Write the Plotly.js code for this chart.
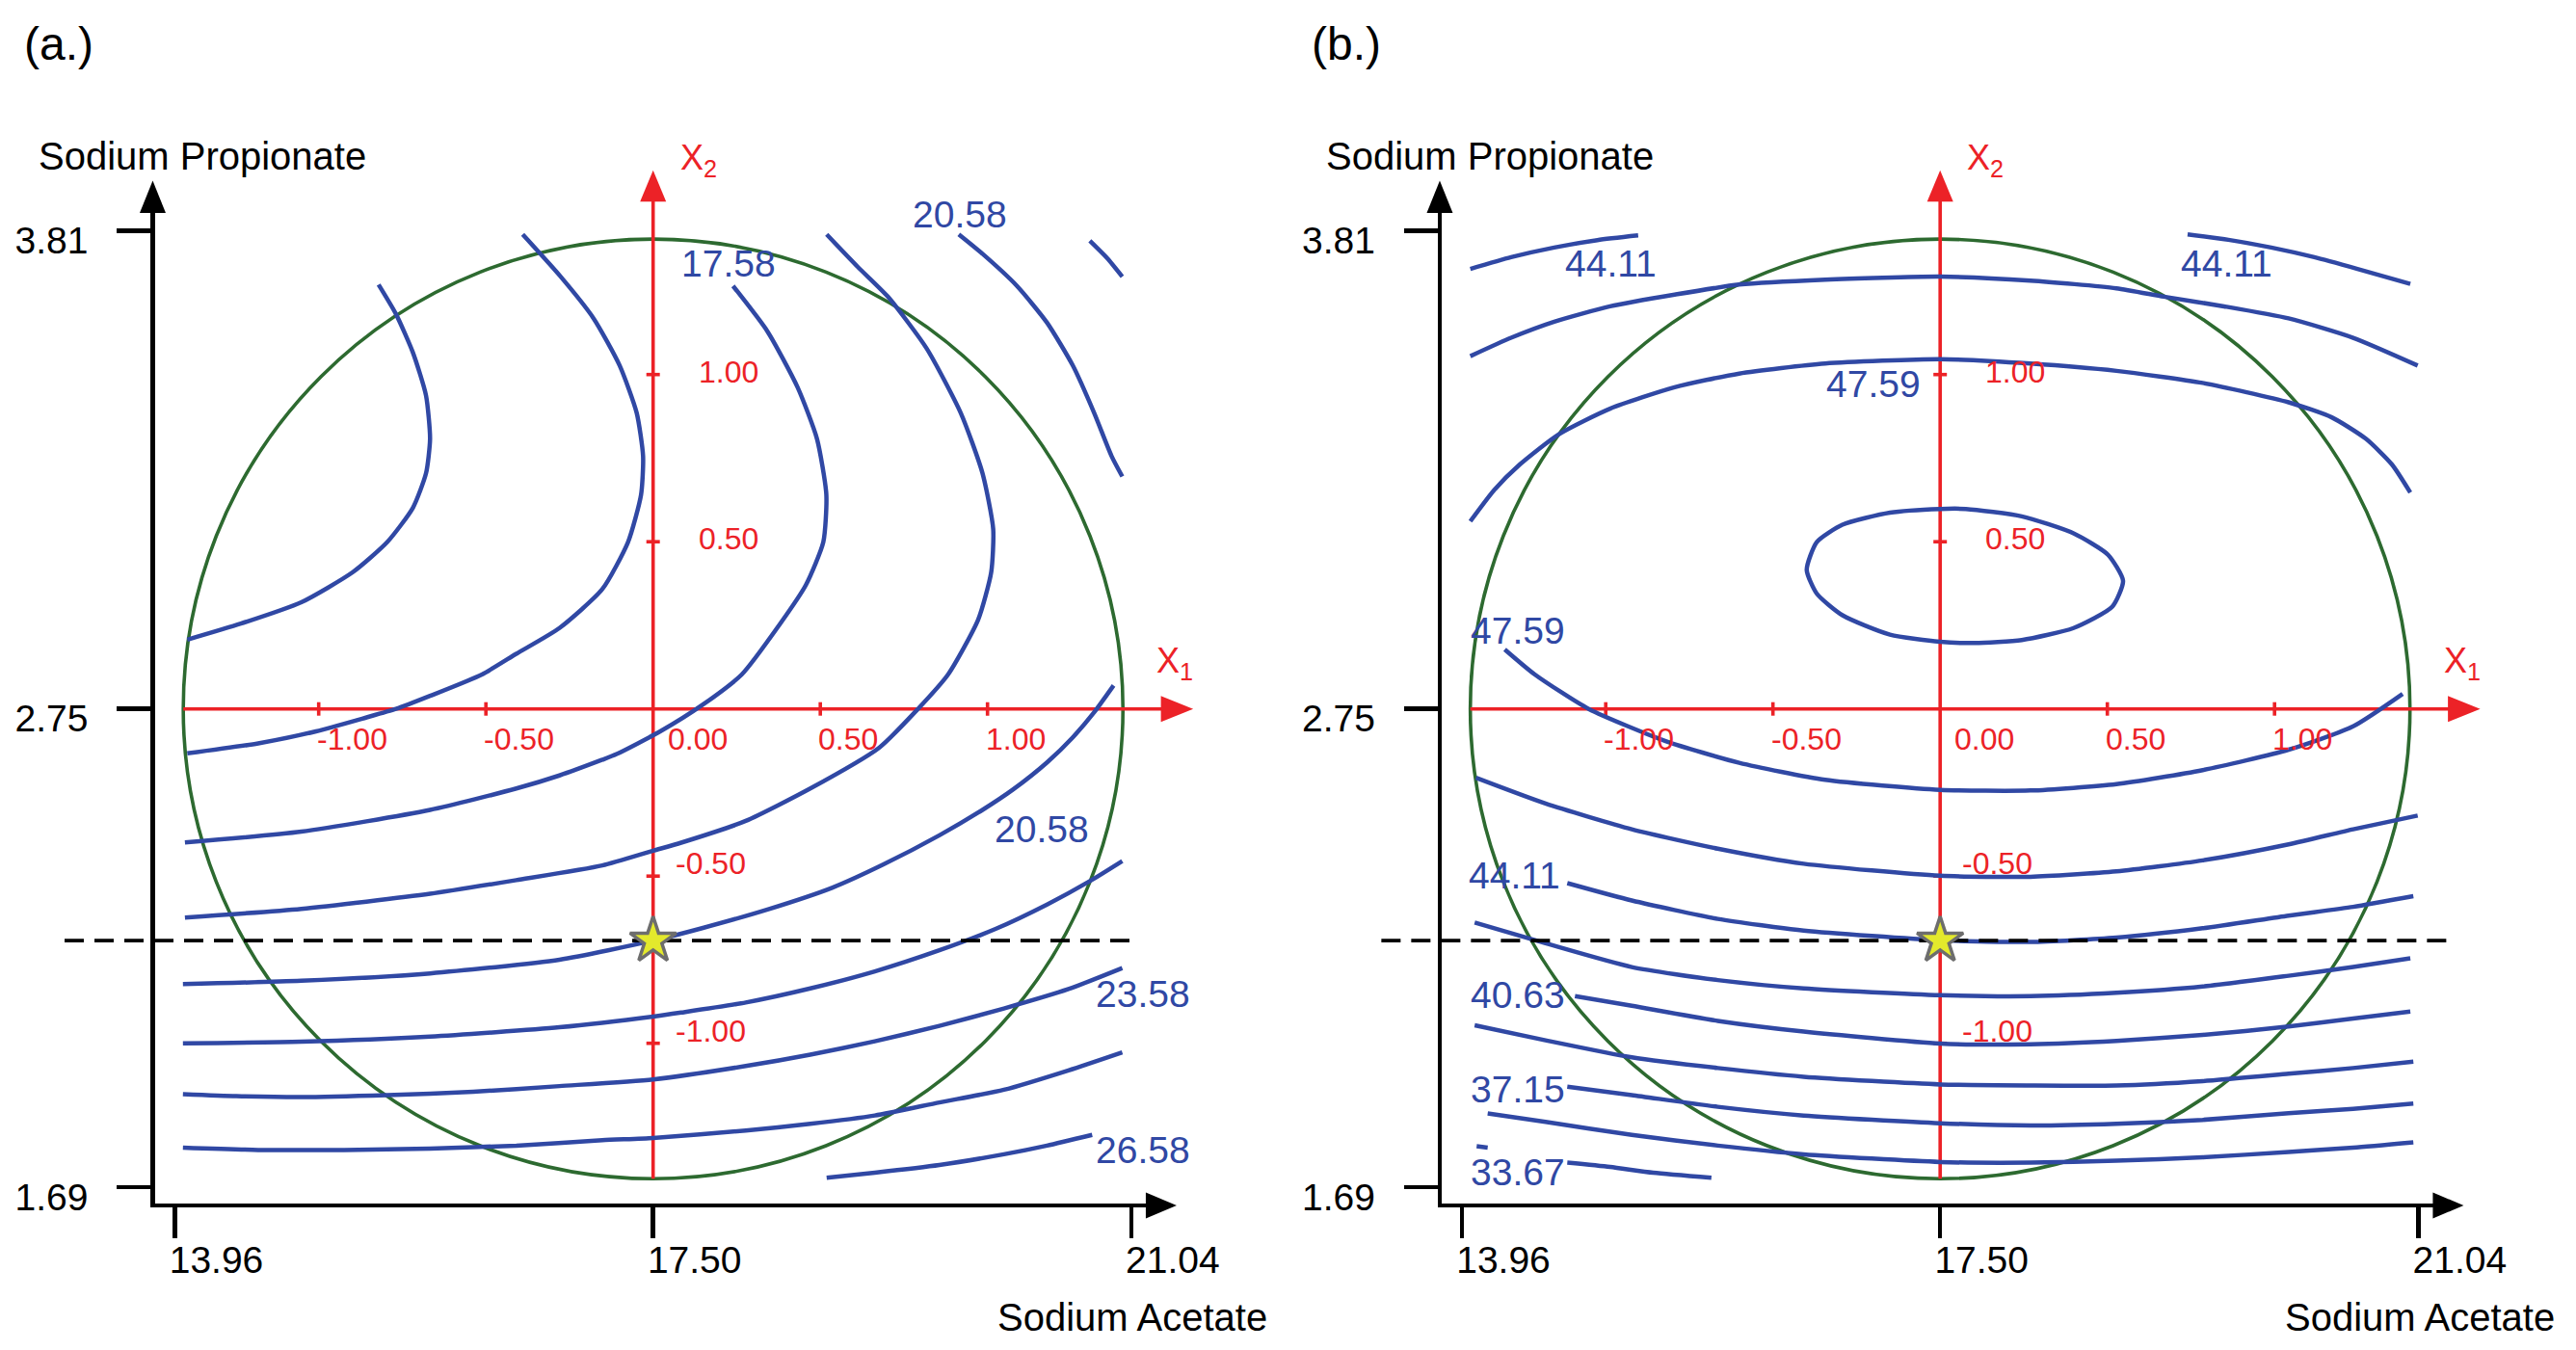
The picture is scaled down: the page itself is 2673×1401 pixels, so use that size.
<!DOCTYPE html>
<html>
<head>
<meta charset="utf-8">
<script src="https://cdn.plot.ly/plotly-3.0.1.min.js"></script>
<style>
html,body{margin:0;padding:0;background:#ffffff;}
#chart{width:2673px;height:1401px;}
</style>
</head>
<body>
<div id="chart"></div>
<script>
// ================= DATA =================
// Real-unit axes
const panelLabels = ['(a.)', '(b.)'];
const xAxisName = 'Sodium Acetate';
const yAxisName = 'Sodium Propionate';
const acetateTicks = [13.96, 17.50, 21.04];
const propionateTicks = [1.69, 2.75, 3.81];
// Coded axes
const codedTicksX1 = [-1.00, -0.50, 0.00, 0.50, 1.00];
const codedTicksX2 = [-1.00, -0.50, 0.50, 1.00];
const designRadius = 1.405;
const optimumX1 = 0.0;
const optimumX2 = -0.693;
const dashA_x = [-1.76, 1.43];
const dashB_x = [-1.671, 1.518];

// ---- Panel (a) contour lines (coded X1, X2) ----
const a1_x = [-0.821,-0.769,-0.718,-0.679,-0.667,-0.679,-0.718,-0.795,-0.898,-1.052,-1.233,-1.393];
const a1_y = [1.269,1.181,1.065,0.937,0.808,0.705,0.602,0.499,0.409,0.319,0.255,0.207];
const a2_x = [-0.390,-0.280,-0.178,-0.100,-0.049,-0.030,-0.036,-0.075,-0.152,-0.280,-0.409,-0.512,-0.667,-0.769,-0.859,-1.008,-1.181,-1.393];
const a2_y = [1.419,1.297,1.168,1.027,0.885,0.756,0.641,0.499,0.358,0.242,0.165,0.103,0.039,0.000,-0.026,-0.067,-0.103,-0.133];
const a3_x = [0.239,0.342,0.432,0.490,0.518,0.509,0.457,0.380,0.265,0.149,0.020,-0.109,-0.152,-0.280,-0.409,-0.667,-1.052,-1.400];
const a3_y = [1.265,1.129,0.962,0.808,0.641,0.499,0.371,0.255,0.103,0.013,-0.068,-0.135,-0.152,-0.199,-0.238,-0.302,-0.367,-0.399];
const a4_x = [0.519,0.612,0.702,0.818,0.920,0.985,1.017,1.011,0.972,0.882,0.792,0.676,0.470,0.277,0.084,0.000,-0.152,-0.409,-0.667,-1.052,-1.400];
const a4_y = [1.419,1.322,1.233,1.078,0.885,0.705,0.538,0.409,0.267,0.103,0.000,-0.116,-0.238,-0.335,-0.400,-0.424,-0.468,-0.512,-0.553,-0.598,-0.624];
const a5_x = [0.914,0.985,1.088,1.178,1.255,1.319,1.371,1.403];
const a5_y = [1.419,1.361,1.265,1.155,1.027,0.885,0.756,0.695];
const a6_x = [1.306,1.358,1.403];
const a6_y = [1.400,1.348,1.293];
const a7_x = [-1.406,-1.052,-0.667,-0.280,0.000,0.149,0.342,0.535,0.689,0.856,0.985,1.075,1.178,1.255,1.319,1.377];
const a7_y = [-0.823,-0.813,-0.791,-0.750,-0.693,-0.655,-0.600,-0.535,-0.465,-0.378,-0.302,-0.242,-0.160,-0.085,-0.010,0.070];
const a8_x = [-1.406,-1.052,-0.667,-0.280,0.000,0.084,0.277,0.470,0.663,0.856,1.024,1.178,1.306,1.403];
const a8_y = [-1.000,-0.995,-0.980,-0.952,-0.920,-0.908,-0.878,-0.836,-0.785,-0.722,-0.658,-0.585,-0.515,-0.455];
const a9_x = [-1.406,-1.246,-1.052,-0.795,-0.538,-0.280,0.000,0.277,0.470,0.663,0.856,1.049,1.242,1.403];
const a9_y = [-1.152,-1.158,-1.161,-1.155,-1.145,-1.128,-1.108,-1.068,-1.034,-0.994,-0.948,-0.896,-0.838,-0.775];
const a10_x = [-1.406,-1.181,-0.924,-0.667,-0.409,-0.152,0.000,0.277,0.470,0.663,0.856,1.049,1.242,1.403];
const a10_y = [-1.312,-1.319,-1.319,-1.315,-1.306,-1.290,-1.283,-1.261,-1.241,-1.216,-1.177,-1.139,-1.081,-1.027];
const a11_x = [0.519,0.663,0.856,1.049,1.178,1.313];
const a11_y = [-1.402,-1.387,-1.364,-1.332,-1.306,-1.274];
const labelsA_text = ['17.58','20.58','20.58','23.58','26.58'];
const labelsA_x = [0.226, 0.916, 1.162, 1.465, 1.465];
const labelsA_y = [1.333, 1.480, -0.360, -0.851, -1.318];

// ---- Panel (b) contour lines (coded X1, X2) ----
const b1_x = [-1.405,-1.283,-1.154,-1.025,-0.903];
const b1_y = [1.316,1.351,1.380,1.402,1.416];
const b2_x = [0.740,0.862,0.990,1.119,1.248,1.406];
const b2_y = [1.419,1.403,1.380,1.351,1.316,1.271];
const b3_x = [-1.405,-1.283,-1.154,-0.987,-0.794,-0.601,-0.344,0.000,0.270,0.527,0.669,0.849,1.042,1.235,1.428];
const b3_y = [1.055,1.110,1.158,1.204,1.239,1.269,1.284,1.293,1.281,1.258,1.233,1.204,1.168,1.110,1.027];
const b4_x = [-1.405,-1.334,-1.257,-1.141,-0.987,-0.794,-0.601,-0.344,0.000,0.270,0.527,0.785,1.042,1.171,1.273,1.351,1.406];
const b4_y = [0.561,0.654,0.731,0.821,0.898,0.962,1.003,1.033,1.046,1.033,1.011,0.975,0.917,0.872,0.808,0.731,0.647];
const b5_x = [-0.399,-0.369,-0.292,-0.150,0.000,0.077,0.244,0.399,0.502,0.547,0.515,0.399,0.244,0.103,0.000,-0.150,-0.292,-0.369,-0.399];
const b5_y = [0.416,0.499,0.551,0.587,0.598,0.598,0.576,0.525,0.461,0.383,0.306,0.242,0.206,0.197,0.201,0.222,0.280,0.345,0.416];
const b6_x = [-1.302,-1.212,-1.051,-0.819,-0.601,-0.344,0.000,0.270,0.527,0.785,1.042,1.235,1.383];
const b6_y = [0.178,0.103,0.000,-0.097,-0.161,-0.212,-0.242,-0.244,-0.225,-0.183,-0.122,-0.052,0.045];
const b7_x = [-1.388,-1.180,-0.922,-0.665,-0.408,0.000,0.270,0.527,0.785,1.042,1.235,1.428];
const b7_y = [-0.206,-0.283,-0.360,-0.418,-0.463,-0.499,-0.502,-0.486,-0.453,-0.405,-0.360,-0.319];
const b8_x = [-1.115,-0.922,-0.665,-0.408,0.000,0.270,0.527,0.785,1.042,1.235,1.415];
const b8_y = [-0.521,-0.573,-0.628,-0.663,-0.692,-0.697,-0.684,-0.656,-0.618,-0.592,-0.560];
const b9_x = [-1.392,-1.180,-0.922,-0.665,-0.408,0.000,0.270,0.527,0.785,1.042,1.235,1.406];
const b9_y = [-0.639,-0.701,-0.772,-0.811,-0.836,-0.856,-0.859,-0.849,-0.830,-0.798,-0.772,-0.746];
const b10_x = [-1.092,-0.922,-0.665,-0.408,0.000,0.270,0.527,0.785,1.042,1.235,1.406];
const b10_y = [-0.859,-0.888,-0.933,-0.965,-1.001,-1.003,-0.993,-0.975,-0.950,-0.926,-0.905];
const b11_x = [-1.392,-1.180,-0.922,-0.665,-0.408,0.000,0.270,0.527,0.785,1.042,1.235,1.415];
const b11_y = [-0.946,-0.991,-1.042,-1.074,-1.100,-1.123,-1.126,-1.126,-1.113,-1.091,-1.074,-1.055];
const b12_x = [-1.115,-0.922,-0.665,-0.408,0.000,0.270,0.527,0.785,1.042,1.235,1.415];
const b12_y = [-1.130,-1.155,-1.190,-1.216,-1.239,-1.246,-1.241,-1.229,-1.209,-1.196,-1.180];
const b13_x = [-1.353,-1.180,-0.922,-0.665,-0.408,0.000,0.270,0.527,0.785,1.042,1.235,1.415];
const b13_y = [-1.210,-1.235,-1.274,-1.306,-1.332,-1.355,-1.357,-1.351,-1.341,-1.325,-1.312,-1.296];
const b14_x = [-1.115,-0.987,-0.858,-0.684];
const b14_y = [-1.357,-1.370,-1.387,-1.402];
const b15_x = [-1.386,-1.353];
const b15_y = [-1.308,-1.312];
const labelsB_text = ['44.11','44.11','47.59','47.59','44.11','40.63','37.15','33.67'];
const labelsB_x = [-0.986, 0.857, -0.198, -1.264, -1.272, -1.263, -1.263, -1.263];
const labelsB_y = [1.333, 1.333, 0.971, 0.235, -0.499, -0.856, -1.139, -1.387];

// ================= GEOMETRY / STYLE =================
const W = 2673, H = 1401;
const PX = 347;                 // pixels per coded unit
const CY = 735.7;               // pixel row of X2 = 0
const CX = [677.7, 2013.2];     // pixel column of X1 = 0, per panel
const X_RANGE = [-1.490, 1.505];     // black real-unit frame
const Y_RANGE = [-1.4787, 1.5006];
const BIG_X = [-1.80, 1.66];         // wider invisible drawing area (same scale)
const BIG_Y = [-1.56, 1.66];
const CODED_EDGE = 1.43;        // coded position of the outer real-unit ticks
const FONT = 'Liberation Sans, Arial, Helvetica, sans-serif';
const BLUE = '#3048a4', RED = '#ec2227', GREEN = '#2d6a30';

const aceMid = acetateTicks[1], aceStep = (acetateTicks[2] - acetateTicks[0]) / 2 / CODED_EDGE;
const proMid = propionateTicks[1], proStep = (propionateTicks[2] - propionateTicks[0]) / 2 / CODED_EDGE;

function xDomOf(p, r) { return [(CX[p] + PX * r[0]) / W, (CX[p] + PX * r[1]) / W]; }
function yDomOf(r) { return [1 - (CY - PX * r[0]) / H, 1 - (CY - PX * r[1]) / H]; }
function pxX(p, cx) { return CX[p] + PX * cx; }
function pxY(cy) { return CY - PX * cy; }

const contoursA = [[a1_x,a1_y],[a2_x,a2_y],[a3_x,a3_y],[a4_x,a4_y],[a5_x,a5_y],[a6_x,a6_y],
                   [a7_x,a7_y],[a8_x,a8_y],[a9_x,a9_y],[a10_x,a10_y],[a11_x,a11_y]];
const contoursB = [[b1_x,b1_y],[b2_x,b2_y],[b3_x,b3_y],[b4_x,b4_y],[b5_x,b5_y],[b6_x,b6_y],
                   [b7_x,b7_y],[b8_x,b8_y],[b9_x,b9_y],[b10_x,b10_y],[b11_x,b11_y],[b12_x,b12_y],
                   [b13_x,b13_y],[b14_x,b14_y],[b15_x,b15_y]];
const dashX = [dashA_x, dashB_x];
const contours = [contoursA, contoursB];
const labels = [[labelsA_text, labelsA_x, labelsA_y], [labelsB_text, labelsB_x, labelsB_y]];

const traces = [];
const annotations = [];
const shapes = [];
const layout = {
  width: W, height: H,
  margin: {l: 0, r: 0, t: 0, b: 0},
  paper_bgcolor: '#ffffff', plot_bgcolor: 'rgba(0,0,0,0)',
  showlegend: false, hovermode: false,
  font: {family: FONT, color: '#000'}
};

for (let p = 0; p < 2; p++) {
  // visible black frame axes (real units)
  const fx = p ? 'x2' : 'x', fy = p ? 'y2' : 'y';
  // invisible drawing axes (coded units, same pixel scale)
  const xa = p ? 'x4' : 'x3', ya = p ? 'y4' : 'y3';
  layout[p ? 'xaxis2' : 'xaxis'] = {
    domain: xDomOf(p, X_RANGE), range: X_RANGE, anchor: fy,
    showline: true, linecolor: '#000', linewidth: 4.5,
    ticks: 'outside', ticklen: 32, tickwidth: 4.5, tickcolor: '#000',
    tickvals: acetateTicks.map(v => (v - aceMid) / aceStep),
    ticktext: acetateTicks.map(v => v.toFixed(2)),
    tickfont: {family: FONT, size: 39, color: '#000'},
    ticklabelshift: 43, ticklabelstandoff: -11,
    showgrid: false, zeroline: false, fixedrange: true
  };
  layout[p ? 'yaxis2' : 'yaxis'] = {
    domain: yDomOf(Y_RANGE), range: Y_RANGE, anchor: fx,
    showline: true, linecolor: '#000', linewidth: 4.5,
    ticks: 'outside', ticklen: 35, tickwidth: 4.5, tickcolor: '#000',
    tickvals: propionateTicks.map(v => (v - proMid) / proStep),
    ticktext: propionateTicks.map(v => v.toFixed(2)),
    tickfont: {family: FONT, size: 39, color: '#000'},
    ticklabelshift: 10, ticklabelstandoff: 22,
    showgrid: false, zeroline: false, fixedrange: true
  };
  layout[p ? 'xaxis4' : 'xaxis3'] = {domain: xDomOf(p, BIG_X), range: BIG_X, anchor: ya,
    visible: false, fixedrange: true};
  layout[p ? 'yaxis4' : 'yaxis3'] = {domain: yDomOf(BIG_Y), range: BIG_Y, anchor: xa,
    visible: false, fixedrange: true};

  // empty trace so the real-unit frame subplot is drawn
  traces.push({x: [], y: [], xaxis: fx, yaxis: fy, mode: 'lines', hoverinfo: 'skip'});

  // red coded axes
  traces.push({x: [-designRadius, 1.55], y: [0, 0], xaxis: xa, yaxis: ya, mode: 'lines',
    line: {color: RED, width: 3.6}});
  traces.push({x: [0, 0], y: [-designRadius, 1.55], xaxis: xa, yaxis: ya, mode: 'lines',
    line: {color: RED, width: 3.6}});
  traces.push({x: codedTicksX1.filter(v => v !== 0), y: codedTicksX1.filter(v => v !== 0).map(() => 0),
    xaxis: xa, yaxis: ya, mode: 'markers',
    marker: {symbol: 'line-ns', size: 10, line: {color: RED, width: 3.6}}});
  traces.push({x: codedTicksX2.map(() => 0), y: codedTicksX2, xaxis: xa, yaxis: ya, mode: 'markers',
    marker: {symbol: 'line-ew', size: 10, line: {color: RED, width: 3.6}}});

  // contour lines
  contours[p].forEach(c => {
    traces.push({x: c[0], y: c[1], xaxis: xa, yaxis: ya, mode: 'lines',
      line: {color: BLUE, width: 4.5, shape: 'spline', smoothing: 0.6}});
  });

  // dashed optimum line and star
  traces.push({x: dashX[p], y: dashX[p].map(() => optimumX2), xaxis: xa, yaxis: ya, mode: 'lines',
    line: {color: '#000', width: 3.6, dash: '20px,11px'}});
  traces.push({x: [optimumX1], y: [optimumX2], xaxis: xa, yaxis: ya, mode: 'markers',
    marker: {symbol: 'star', size: 36, color: '#e3e92c', line: {color: '#6d6d6d', width: 3.5}}});

  // design circle
  shapes.push({type: 'circle', xref: xa, yref: ya, layer: 'below',
    x0: -designRadius, x1: designRadius, y0: -designRadius, y1: designRadius,
    line: {color: GREEN, width: 3.6}});

  // black axis arrowheads
  const lineX = pxX(p, X_RANGE[0]) - 2.2, lineY = pxY(Y_RANGE[0]) + 2.2;
  shapes.push({type: 'path', xref: 'paper', yref: 'paper', xsizemode: 'pixel', ysizemode: 'pixel',
    xanchor: lineX / W, yanchor: 1 - pxY(Y_RANGE[1]) / H,
    path: 'M-13.5,-6 L13.5,-6 L0,27.5 Z', fillcolor: '#000', line: {width: 0}});
  shapes.push({type: 'path', xref: 'paper', yref: 'paper', xsizemode: 'pixel', ysizemode: 'pixel',
    xanchor: pxX(p, X_RANGE[1]) / W, yanchor: 1 - lineY / H,
    path: 'M-11,13.5 L-11,-13.5 L21,0 Z', fillcolor: '#000', line: {width: 0}});
  // red arrowheads
  shapes.push({type: 'path', xref: 'paper', yref: 'paper', xsizemode: 'pixel', ysizemode: 'pixel',
    xanchor: pxX(p, 0) / W, yanchor: 1 - pxY(1.611) / H,
    path: 'M-13.5,-32.5 L13.5,-32.5 L0,0 Z', fillcolor: RED, line: {width: 0}});
  shapes.push({type: 'path', xref: 'paper', yref: 'paper', xsizemode: 'pixel', ysizemode: 'pixel',
    xanchor: pxX(p, 1.615) / W, yanchor: 1 - CY / H,
    path: 'M-33.5,13.5 L-33.5,-13.5 L0,0 Z', fillcolor: RED, line: {width: 0}});

  // red coded tick labels
  codedTicksX1.forEach(v => {
    annotations.push({x: v, y: 0, xref: xa, yref: ya, text: v.toFixed(2), showarrow: false,
      xanchor: 'left', yanchor: 'middle', xshift: v === 0 ? 13 : -4, yshift: -31,
      font: {family: FONT, size: 32, color: RED}});
  });
  codedTicksX2.forEach(v => {
    annotations.push({x: 0, y: v, xref: xa, yref: ya, text: v.toFixed(2), showarrow: false,
      xanchor: 'left', yanchor: 'middle', xshift: v > 0 ? 45 : 21, yshift: v > 0 ? 3 : 13,
      font: {family: FONT, size: 32, color: RED}});
  });
  // X1 / X2 names
  annotations.push({x: (pxX(p, 0) + 26) / W, y: 1 - 166 / H, xref: 'paper', yref: 'paper',
    text: 'X<sub>2</sub>', showarrow: false, xanchor: 'left', yanchor: 'middle',
    font: {family: FONT, size: 36, color: RED}});
  annotations.push({x: (pxX(p, 1.615) - 40) / W, y: 1 - 688 / H, xref: 'paper', yref: 'paper',
    text: 'X<sub>1</sub>', showarrow: false, xanchor: 'left', yanchor: 'middle',
    font: {family: FONT, size: 36, color: RED}});

  // contour value labels
  const L = labels[p];
  L[0].forEach((t, i) => {
    annotations.push({x: L[1][i], y: L[2][i], xref: xa, yref: ya, text: t, showarrow: false,
      xanchor: 'center', yanchor: 'middle', font: {family: FONT, size: 39, color: BLUE}});
  });

  // panel text
  const off = CX[p] - CX[0];
  annotations.push({x: (23 + off) / W, y: 1 - 46 / H, xref: 'paper', yref: 'paper', text: panelLabels[p],
    showarrow: false, xanchor: 'left', yanchor: 'middle', font: {family: FONT, size: 48, color: '#000'}});
  annotations.push({x: (38 + off) / W, y: 1 - 162 / H, xref: 'paper', yref: 'paper', text: yAxisName,
    showarrow: false, xanchor: 'left', yanchor: 'middle', font: {family: FONT, size: 40, color: '#000'}});
  annotations.push({x: (1317 + off) / W, y: 1 - 1367 / H, xref: 'paper', yref: 'paper', text: xAxisName,
    showarrow: false, xanchor: 'right', yanchor: 'middle', font: {family: FONT, size: 40, color: '#000'}});
}

layout.shapes = shapes;
layout.annotations = annotations;

Plotly.newPlot('chart', traces, layout, {staticPlot: true, displayModeBar: false});
</script>
</body>
</html>
